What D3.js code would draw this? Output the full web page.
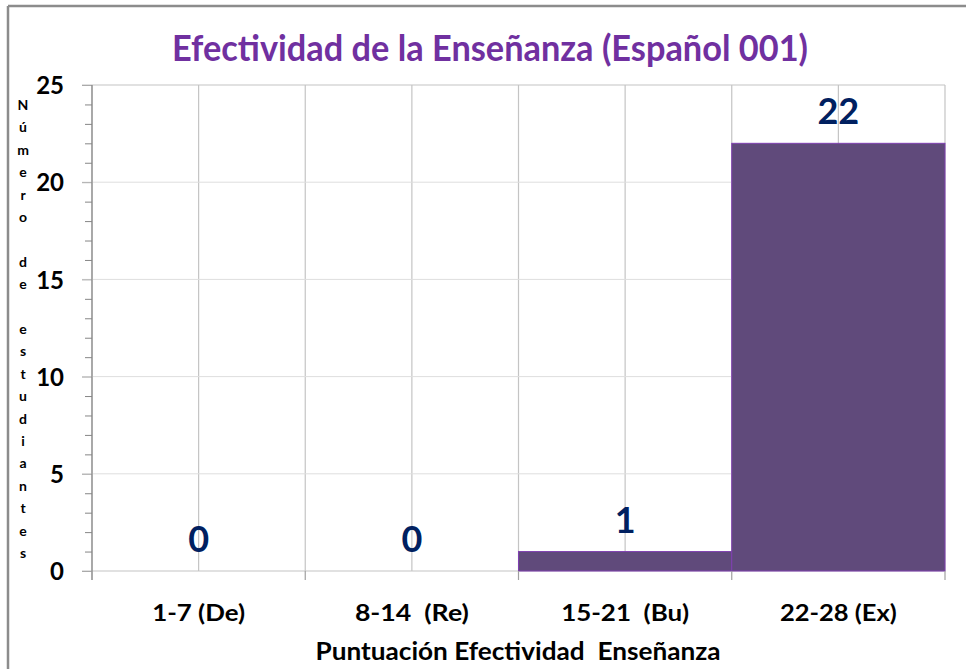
<!DOCTYPE html>
<html>
<head>
<meta charset="utf-8">
<script src="https://cdn.jsdelivr.net/npm/d3@7"></script>
<style>
  html, body { margin: 0; padding: 0; background: #fff; }
  svg { display: block; }
  text { font-family: Lato, "Open Sans", sans-serif; font-weight: bold; }
</style>
</head>
<body>
<svg id="chart" width="966" height="669"></svg>
<script>
// ---- data ----
const title = "Efectividad de la Enseñanza (Español 001)";
const categories = ["1-7 (De)", "8-14  (Re)", "15-21  (Bu)", "22-28 (Ex)"];
const values = [0, 0, 1, 22];
const yTicks = [0, 5, 10, 15, 20, 25];
const xTitle = "Puntuación Efectividad  Enseñanza";
const yTitle = "Número de estudiantes";

// ---- layout ----
const W = 966, H = 669;
const plot = { left: 92, right: 945, top: 85, bottom: 571 };
const svg = d3.select("#chart");

const x = d3.scaleBand().domain(categories).range([plot.left, plot.right]).padding(0);
const y = d3.scaleLinear().domain([0, 25]).range([plot.bottom, plot.top]);

// outer frame (left and top edges visible)
svg.append("line").attr("x1", 8).attr("x2", 8).attr("y1", 6).attr("y2", H)
  .attr("stroke", "#8c8c8c").attr("stroke-width", 2.5);
svg.append("line").attr("x1", 8).attr("x2", W).attr("y1", 6).attr("y2", 6)
  .attr("stroke", "#8c8c8c").attr("stroke-width", 2.5);

// title
svg.append("text").attr("x", 490).attr("y", 61)
  .attr("text-anchor", "middle").attr("fill", "#7030a0")
  .attr("font-size", 37)
  .attr("textLength", 636).attr("lengthAdjust", "spacingAndGlyphs")
  .text(title);

// vertical gridlines: category boundaries and centers
const vPos = [];
categories.forEach(c => { vPos.push(x(c)); vPos.push(x(c) + x.bandwidth() / 2); });
vPos.push(plot.right);
svg.append("g").selectAll("line").data(vPos).join("line")
  .attr("x1", d => d).attr("x2", d => d)
  .attr("y1", plot.top).attr("y2", plot.bottom)
  .attr("stroke", "#c4c4c4").attr("stroke-width", 1.2);

// horizontal gridlines at major ticks (faint)
svg.append("g").selectAll("line").data(yTicks).join("line")
  .attr("x1", plot.left - 10).attr("x2", plot.right)
  .attr("y1", d => y(d)).attr("y2", d => y(d))
  .attr("stroke", d => (d === 0 || d === 25) ? "#c4c4c4" : "#dedede")
  .attr("stroke-width", d => (d === 0 || d === 25) ? 1.2 : 1);

// bars
svg.append("g").selectAll("rect").data(values).join("rect")
  .attr("x", (d, i) => x(categories[i]))
  .attr("width", x.bandwidth())
  .attr("y", d => y(d))
  .attr("height", d => y(0) - y(d))
  .attr("fill", "#604a7b")
  .attr("stroke", d => d > 0 ? "#7f3fb0" : "none")
  .attr("stroke-width", 1);

// y axis (minor ticks)
const minor = d3.range(0, 26).filter(v => v % 5 !== 0);
const yMinor = svg.append("g").attr("transform", `translate(${plot.left},0)`)
  .call(d3.axisLeft(y).tickValues(minor).tickSize(7).tickFormat(""));
yMinor.select(".domain").remove();
yMinor.selectAll("line").attr("stroke", "#868686");

// y axis (major ticks + labels)
const yMajor = svg.append("g").attr("transform", `translate(${plot.left},0)`)
  .call(d3.axisLeft(y).tickValues(yTicks).tickSize(10).tickPadding(18).tickSizeOuter(0));
yMajor.select(".domain").remove();
yMajor.selectAll("line").attr("stroke", "#aaaaaa");
yMajor.selectAll("text")
  .attr("font-family", "Lato, 'Open Sans', sans-serif")
  .attr("font-weight", "bold")
  .attr("font-size", 24).attr("fill", "#000").attr("dy", "0.36em");
svg.append("line").attr("x1", plot.left).attr("x2", plot.left)
  .attr("y1", plot.top).attr("y2", plot.bottom + 9)
  .attr("stroke", "#868686").attr("stroke-width", 1.2);

// x axis
const xAxisG = svg.append("g").attr("transform", `translate(0,${plot.bottom})`)
  .call(d3.axisBottom(x).tickSize(0).tickFormat(""));
xAxisG.select(".domain").remove();
const bounds = categories.map(c => x(c)).concat([plot.right]);
svg.append("g").selectAll("line").data(bounds).join("line")
  .attr("x1", d => d).attr("x2", d => d)
  .attr("y1", plot.bottom).attr("y2", plot.bottom + 9)
  .attr("stroke", "#a0a0a0").attr("stroke-width", 1.2);

// x tick labels
const xLabelWidths = [93, 114, 128, 117];
svg.append("g").selectAll("text").data(categories).join("text")
  .attr("x", d => x(d) + x.bandwidth() / 2)
  .attr("y", 621)
  .attr("text-anchor", "middle")
  .attr("font-size", 22).attr("fill", "#000")
  .attr("textLength", (d, i) => xLabelWidths[i]).attr("lengthAdjust", "spacingAndGlyphs")
  .style("white-space", "pre")
  .text(d => d);

// value labels
svg.append("g").selectAll("text").data(values).join("text")
  .attr("x", (d, i) => x(categories[i]) + x.bandwidth() / 2)
  .attr("y", d => y(d) - 19)
  .attr("text-anchor", "middle")
  .attr("font-size", 36).attr("fill", "#002060")
  .text(d => d);

// x axis title
svg.append("text").attr("x", 518).attr("y", 660)
  .attr("text-anchor", "middle").attr("font-size", 25).attr("fill", "#000")
  .attr("textLength", 405).attr("lengthAdjust", "spacingAndGlyphs")
  .style("white-space", "pre")
  .text(xTitle);

// y axis title (stacked letters)
const yt = svg.append("text").attr("text-anchor", "middle")
  .attr("font-size", 14).attr("fill", "#000").style("white-space", "pre");
yt.selectAll("tspan").data(yTitle.split("")).join("tspan")
  .attr("x", 23).attr("y", (d, i) => 110 + i * 22.4)
  .text(d => d);
</script>
</body>
</html>
